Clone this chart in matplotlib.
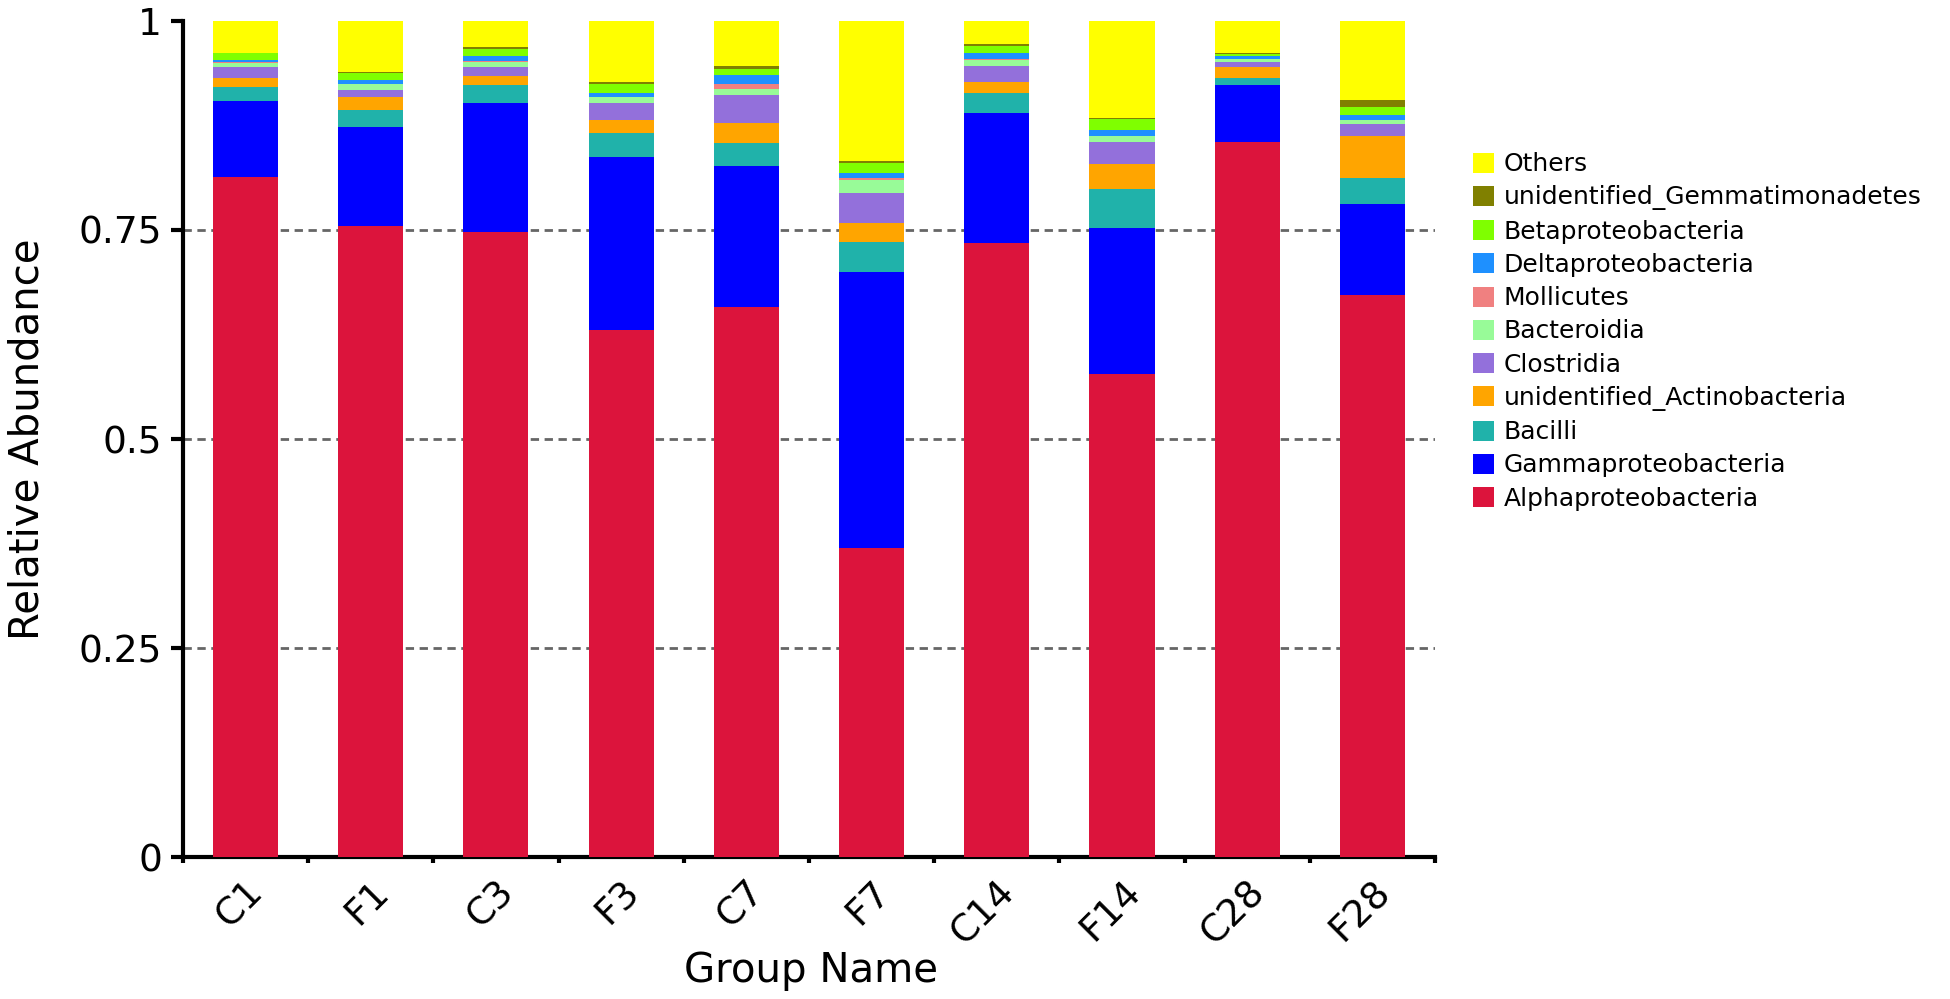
import matplotlib
matplotlib.use("Agg")
import matplotlib.pyplot as plt
import numpy as np

groups = ["C1", "F1", "C3", "F3", "C7", "F7", "C14", "F14", "C28", "F28"]

# stacked from bottom to top
taxa = ["Alphaproteobacteria", "Gammaproteobacteria", "Bacilli",
        "unidentified_Actinobacteria", "Clostridia", "Bacteroidia",
        "Mollicutes", "Deltaproteobacteria", "Betaproteobacteria",
        "unidentified_Gemmatimonadetes", "Others"]

colors = ["#DC143C", "#0000FF", "#20B2AA", "#FFA500", "#9370DB", "#98FB98",
          "#F08080", "#1E90FF", "#7FFF00", "#808000", "#FFFF00"]

alpha = [0.8138, 0.7548, 0.7480, 0.6304, 0.6575, 0.3693, 0.7350, 0.5774, 0.8557, 0.6722]
gamma = [0.0909, 0.1181, 0.1543, 0.2073, 0.1694, 0.3309, 0.1550, 0.1754, 0.0678, 0.1089]
bacilli = [0.0160, 0.0207, 0.0212, 0.0280, 0.0275, 0.0352, 0.0239, 0.0459, 0.0080, 0.0307]
actino = [0.0108, 0.0152, 0.0108, 0.0159, 0.0231, 0.0234, 0.0132, 0.0299, 0.0132, 0.0506]
clostridia = [0.0132, 0.0087, 0.0104, 0.0200, 0.0335, 0.0359, 0.0188, 0.0270, 0.0067, 0.0144]
bacteroidia = [0.0048, 0.0072, 0.0067, 0.0072, 0.0072, 0.0152, 0.0080, 0.0068, 0.0030, 0.0048]
mollicutes = [0.0018, 0.0005, 0.0005, 0.0005, 0.0060, 0.0020, 0.0005, 0.0005, 0.0005, 0.0005]
delta = [0.0020, 0.0040, 0.0060, 0.0048, 0.0108, 0.0060, 0.0072, 0.0063, 0.0030, 0.0060]
beta = [0.0080, 0.0089, 0.0089, 0.0111, 0.0080, 0.0127, 0.0087, 0.0136, 0.0032, 0.0092]
gemmat = [0.0005, 0.0010, 0.0024, 0.0016, 0.0031, 0.0024, 0.0024, 0.0012, 0.0005, 0.0079]
others = [0.0382, 0.0609, 0.0308, 0.0732, 0.0539, 0.1670, 0.0273, 0.1160, 0.0384, 0.0948]

series = [alpha, gamma, bacilli, actino, clostridia, bacteroidia,
          mollicutes, delta, beta, gemmat, others]

plt.rcParams['font.family'] = ['DejaVu Sans']

fig = plt.figure(figsize=(19.5, 9.99), dpi=100)
ax = fig.add_axes([0.0938, 0.1421, 0.6421, 0.8369])

x = np.arange(len(groups))
bottom = np.zeros(len(groups))
handles = []
for name, vals, col in zip(taxa, series, colors):
    b = ax.bar(x, vals, 0.52, bottom=bottom, color=col, label=name, zorder=3)
    handles.append(b)
    bottom += np.array(vals)

for yv in [0.25, 0.5, 0.75]:
    ax.axhline(yv, color="#666666", lw=2, ls=(0, (3, 2)), zorder=1)

ax.set_xlim(-0.5, len(groups) - 0.5)
ax.set_ylim(0, 1)
ax.set_yticks([0, 0.25, 0.5, 0.75, 1])
ax.set_yticklabels(["0", "0.25", "0.5", "0.75", "1"])
ax.set_xticks(x)
ax.set_xticklabels(groups, rotation=45, ha="right", rotation_mode="anchor")
ax.set_xticks(np.arange(-0.5, len(groups)), minor=True)

for s in ["top", "right"]:
    ax.spines[s].set_visible(False)
for s in ["left", "bottom"]:
    ax.spines[s].set_linewidth(3)

ax.tick_params(axis="y", length=9, width=3, labelsize=27, pad=6)
ax.tick_params(axis="x", which="major", length=0, labelsize=27, pad=12)
ax.tick_params(axis="x", which="minor", length=4, width=3)

ax.set_ylabel("Relative Abundance", fontsize=29)
ax.set_xlabel("Group Name", fontsize=29)
ax.yaxis.set_label_coords(-0.108, 0.5)
ax.xaxis.set_label_coords(0.502, -0.112)

leg = ax.legend(handles[::-1], taxa[::-1], loc="upper left",
                bbox_to_anchor=(1.022, 0.855), frameon=False, fontsize=18,
                handlelength=0.85, handleheight=0.85, handletextpad=0.4,
                labelspacing=0.37, borderaxespad=0)

fig.savefig("out.png", dpi=100)
